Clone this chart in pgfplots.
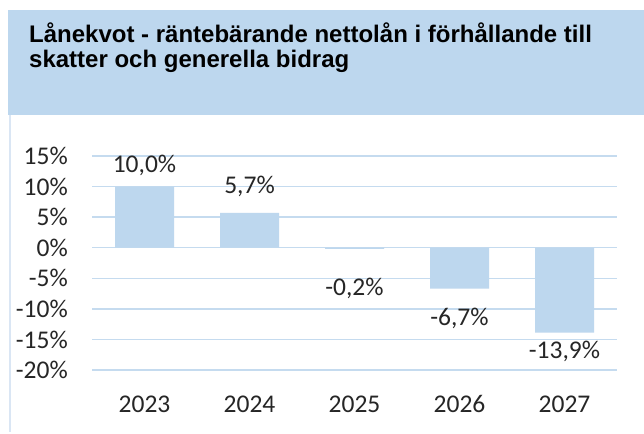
\documentclass[border=0pt]{standalone}
\usepackage{fontspec}
\setmainfont{Carlito}
\newfontfamily\titlefont{Liberation Sans}
\usepackage{pgfplots}
\usepackage{pgfplotstable}
\pgfplotsset{compat=1.18}
\definecolor{band}{HTML}{BDD7EE}
\definecolor{barc}{HTML}{BDD7EE}
\definecolor{gridc}{HTML}{C5DBEF}
\definecolor{edge}{HTML}{DAE6F4}
\pgfplotstableread{
x y ly lab
0 10.0 13.4 10,0
1 5.7 10.1 5,7
2 -0.2 -6.7 -0,2
3 -6.7 -11.6 -6,7
4 -13.9 -17.0 -13,9
}\bars
\begin{document}
\begin{tikzpicture}[x=1pt,y=1pt]
\fill[white] (0,0) rectangle (644,432);
\fill[band] (7.5,317) rectangle (644,422);
\draw[edge, line width=2pt] (10,0) -- (10,317);
\node[anchor=base west, inner sep=0pt, font=\titlefont\bfseries\fontsize{24}{25}\selectfont] at (29,389) {Lånekvot - räntebärande nettolån i förhållande till};
\node[anchor=base west, inner sep=0pt, font=\titlefont\bfseries\fontsize{24}{25}\selectfont] at (29,364) {skatter och generella bidrag};
\begin{axis}[
  at={(92pt,62pt)}, anchor=south west,
  scale only axis, width=525pt, height=214pt,
  xmin=-0.5, xmax=4.5, ymin=-20, ymax=15,
  axis line style={draw=none},
  xtick={0,1,2,3,4}, xticklabels={2023,2024,2025,2026,2027},
  ytick={-20,-15,-10,-5,0,5,10,15},
  yticklabels={-20\%,-15\%,-10\%,-5\%,0\%,5\%,10\%,15\%},
  ymajorgrids, major grid style={gridc, line width=1.3pt},
  major tick length=0pt,
  ticklabel style={font=\fontsize{25.5}{28}\selectfont, text=black!85},
  yticklabel style={anchor=east, inner sep=0pt, xshift=-24pt},
  xticklabel style={anchor=base, inner sep=0pt, yshift=-42pt},
  clip=false,
]
\addplot[ybar, bar width=59pt, fill=barc, draw=none] table[x=x,y=y] {\bars};
\addplot[draw=none, mark=none, nodes near coords={\pgfplotspointmeta\%},
  nodes near coords align={center}, point meta=explicit symbolic,
  every node near coord/.style={font=\fontsize{25.5}{28}\selectfont, text=black!85, inner sep=0pt}]
  table[x=x,y=ly,meta=lab] {\bars};
\end{axis}
\end{tikzpicture}
\end{document}
